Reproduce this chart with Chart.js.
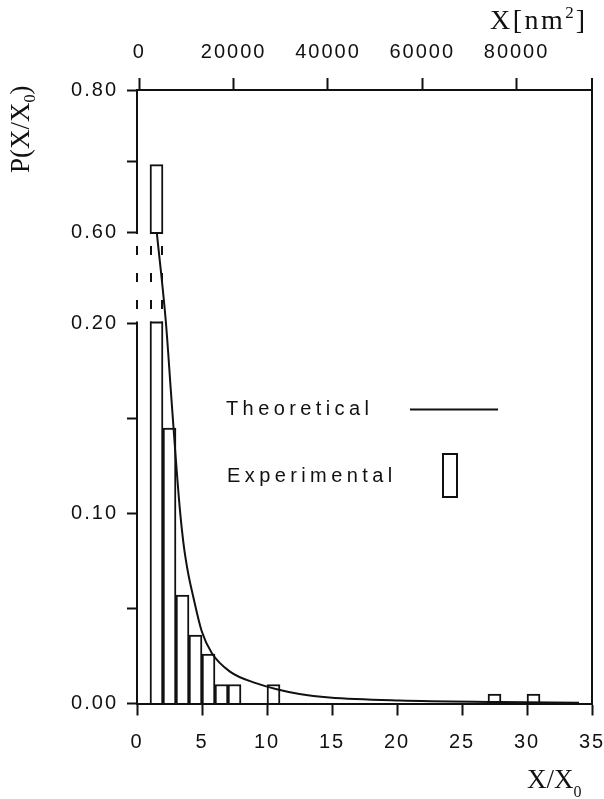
<!DOCTYPE html>
<html>
<head>
<meta charset="utf-8">
<script src="https://cdn.jsdelivr.net/npm/chart.js@4.4.1/dist/chart.umd.min.js"></script>
<style>
  html, body { margin: 0; padding: 0; background: #fff; }
  #wrap { width: 604px; height: 799px; }
</style>
</head>
<body>
<div id="wrap"><canvas id="chart" width="604" height="799"></canvas></div>
<script>
// histogram: left edge of each 1-wide bin (X/X0) and its probability
const binStarts = [1, 2, 3, 4, 5, 6, 7, 10, 27, 30];
const binValues = [0.695, 0.145, 0.057, 0.036, 0.026, 0.010, 0.010, 0.010, 0.005, 0.005];

// theoretical distribution
const theoryX = [1.52, 2.23, 2.6, 2.95, 3.3, 3.6, 3.95, 4.3, 4.98, 5.75, 7.15, 9.2, 10.75, 12.5, 14.8, 20.2, 27.9, 34];
const theoryY = [0.60, 0.200, 0.165, 0.132, 0.102, 0.083, 0.068, 0.057, 0.038, 0.0266, 0.0168, 0.0106, 0.0075, 0.0050, 0.0032, 0.0016, 0.0008, 0.0004];

// axes
const xTicks = [0, 5, 10, 15, 20, 25, 30, 35];
const topTicks = [0, 20000, 40000, 60000, 80000];
const yTicks = [0, 0.05, 0.10, 0.15, 0.20, 0.60, 0.70, 0.80];
const yTickLabels = ['0.00', '', '0.10', '', '0.20', '0.60', '', '0.80'];
const yBreak = [0.20, 0.60];

const INK = '#111';
const tickFont = { family: "'Liberation Sans', Arial, sans-serif", size: 20 };

// linear scale with a gap between yBreak[0] and yBreak[1]
class BrokenLinearScale extends Chart.LinearScale {
  static id = 'brokenLinear';
  static defaults = Chart.LinearScale.defaults;

  toDecimal(v) {
    const lo = 0.6194, gap = 0.1491;
    const [a, b] = yBreak;
    if (v <= a) return (v - this.min) / (a - this.min) * lo;
    if (v <= b) return lo + (v - a) / (b - a) * gap;
    return lo + gap + (v - b) / (this.max - b) * (1 - lo - gap);
  }
  getPixelForValue(v) {
    if (v === null || isNaN(v)) return NaN;
    return this.getPixelForDecimal(this.toDecimal(v));
  }
  getValueForPixel(p) {
    const d = this.getDecimalForPixel(p);
    const lo = 0.6194, gap = 0.1491;
    const [a, b] = yBreak;
    if (d <= lo) return this.min + d / lo * (a - this.min);
    if (d <= lo + gap) return a + (d - lo) / gap * (b - a);
    return b + (d - lo - gap) / (1 - lo - gap) * (this.max - b);
  }
}
Chart.register(BrokenLinearScale);

function spacedText(ctx, text, x, y, spacing) {
  for (const ch of text) {
    ctx.fillText(ch, x, y);
    x += ctx.measureText(ch).width + spacing;
  }
  return x;
}

// white out the gap, close the tall bar on both sides and draw the dashed joins
const breakPlugin = {
  id: 'axisBreak',
  beforeDraw(chart) {
    chart.ctx.letterSpacing = '2px';
  },
  afterDatasetDraw(chart, args) {
    if (args.index !== 1) return;
    const ctx = chart.ctx, y = chart.scales.y, area = chart.chartArea;
    const bar = chart.getDatasetMeta(1).data[0];
    const pLow = y.getPixelForValue(yBreak[0]);
    const pHigh = y.getPixelForValue(yBreak[1]);
    const l = bar.x - bar.width / 2, r = bar.x + bar.width / 2;
    ctx.save();
    ctx.fillStyle = '#fff';
    ctx.fillRect(area.left - 3, pHigh + 2, r - area.left + 6, pLow - pHigh - 4);
    ctx.strokeStyle = INK;
    ctx.lineWidth = 2;
    ctx.beginPath();
    ctx.moveTo(l, pLow - 1); ctx.lineTo(r, pLow - 1);
    ctx.moveTo(l, pHigh + 1); ctx.lineTo(r, pHigh + 1);
    ctx.stroke();
    ctx.setLineDash([9, 18]);
    ctx.beginPath();
    [area.left, l + 1, r - 1].forEach(x => {
      ctx.moveTo(x, pHigh + 14);
      ctx.lineTo(x, pLow - 6);
    });
    ctx.stroke();
    ctx.restore();
  },
  afterDraw(chart) {
    const ctx = chart.ctx, area = chart.chartArea;
    ctx.save();
    ctx.letterSpacing = '0px';
    ctx.strokeStyle = INK;
    ctx.fillStyle = INK;
    ctx.lineWidth = 2;

    // right frame
    ctx.beginPath();
    ctx.moveTo(area.right, area.top - 12);
    ctx.lineTo(area.right, area.bottom);
    ctx.stroke();

    // legend
    ctx.font = "20px 'Liberation Sans', Arial, sans-serif";
    ctx.textBaseline = 'alphabetic';
    spacedText(ctx, 'Theoretical', 226, 415, 4.4);
    spacedText(ctx, 'Experimental', 227, 481.5, 4.4);
    ctx.beginPath();
    ctx.moveTo(410, 409.5);
    ctx.lineTo(498, 409.5);
    ctx.stroke();
    ctx.strokeRect(443, 454, 14, 43);

    // axis titles
    const serif = "'Liberation Serif', 'Times New Roman', serif";
    ctx.save();
    ctx.translate(29, 173);
    ctx.rotate(-Math.PI / 2);
    ctx.font = '27px ' + serif;
    ctx.fillText('P(X/X', 0, 0);
    let w = ctx.measureText('P(X/X').width;
    ctx.font = '16px ' + serif;
    ctx.fillText('0', w, 6);
    w += ctx.measureText('0').width;
    ctx.font = '27px ' + serif;
    ctx.fillText(')', w, 0);
    ctx.restore();

    ctx.font = '27px ' + serif;
    ctx.fillText('X/X', 527, 788);
    w = ctx.measureText('X/X').width;
    ctx.font = '16px ' + serif;
    ctx.fillText('0', 527 + w, 797);

    ctx.font = '28px ' + serif;
    let x = spacedText(ctx, 'X[nm', 490, 29, 2.5);
    ctx.font = '17px ' + serif;
    ctx.fillText('2', x, 18);
    x += ctx.measureText('2').width + 2;
    ctx.font = '28px ' + serif;
    ctx.fillText(']', x, 29);
    ctx.restore();
  }
};

const axisGrid = { drawOnChartArea: false, offset: false, tickLength: 12, tickColor: INK, tickWidth: 2 };
const axisBorder = { color: INK, width: 2 };

// fixed axis sizes so the plot frame lands where it should
function fitX(height) {
  return s => {
    s.height = height;
    s.paddingLeft = 0;
    s.paddingRight = 0;
  };
}

new Chart(document.getElementById('chart'), {
  type: 'bar',
  data: {
    datasets: [
      {
        type: 'line',
        label: 'Theoretical',
        data: theoryX.map((x, i) => ({ x: x, y: theoryY[i] })),
        borderColor: INK,
        borderWidth: 2,
        pointRadius: 0,
        fill: false,
        tension: 0.4,
        cubicInterpolationMode: 'monotone',
        order: 0
      },
      {
        type: 'bar',
        label: 'Experimental',
        data: binStarts.map((s, i) => ({ x: s + 0.5, y: binValues[i] })),
        backgroundColor: '#fff',
        borderColor: INK,
        borderWidth: 2,
        barPercentage: 1,
        categoryPercentage: 1,
        order: 1
      }
    ]
  },
  options: {
    responsive: false,
    animation: false,
    events: [],
    layout: { padding: { left: 0, right: 12, top: 0, bottom: 0 } },
    plugins: { legend: { display: false }, tooltip: { enabled: false } },
    scales: {
      x: {
        type: 'linear',
        position: 'bottom',
        offset: false,
        min: 0,
        max: 35,
        afterBuildTicks: s => { s.ticks = xTicks.map(v => ({ value: v })); },
        afterFit: fitX(95.5),
        grid: axisGrid,
        border: axisBorder,
        ticks: { font: tickFont, color: INK, padding: 15, maxRotation: 0, autoSkip: false }
      },
      x2: {
        type: 'linear',
        axis: 'x',
        position: 'top',
        offset: false,
        min: -500,
        max: 96000,
        afterBuildTicks: s => { s.ticks = topTicks.map(v => ({ value: v })); },
        afterFit: fitX(90),
        grid: axisGrid,
        border: axisBorder,
        ticks: { font: tickFont, color: INK, padding: 14, maxRotation: 0, autoSkip: false,
                 callback: v => String(v) }
      },
      y: {
        type: 'brokenLinear',
        min: 0,
        max: 0.8,
        afterBuildTicks: s => { s.ticks = yTicks.map(v => ({ value: v })); },
        afterFit: s => { s.width = 137; s.paddingTop = 0; s.paddingBottom = 0; },
        grid: { drawOnChartArea: false, tickLength: 10, tickColor: INK, tickWidth: 2 },
        border: axisBorder,
        ticks: { font: tickFont, color: INK, padding: 9, autoSkip: false,
                 callback: (v, i) => yTickLabels[i] }
      }
    }
  },
  plugins: [breakPlugin]
});
</script>
</body>
</html>
